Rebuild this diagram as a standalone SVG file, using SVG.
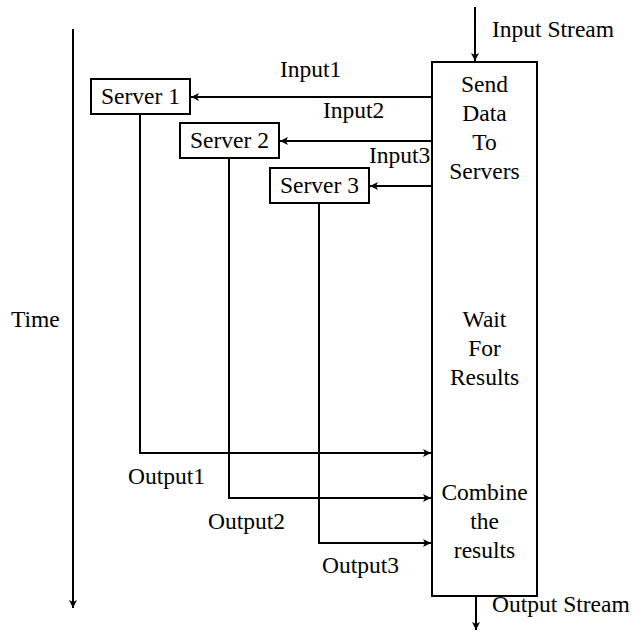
<svg xmlns="http://www.w3.org/2000/svg" width="633" height="632" viewBox="0 0 633 632" font-family="'Liberation Serif', 'Times New Roman', serif" font-size="23.5">
<defs>
<marker id="ah" markerWidth="10" markerHeight="10" refX="9" refY="5" orient="auto" markerUnits="userSpaceOnUse">
<path d="M1,1 L9,5 L1,9 L3,5 Z" fill="#000"/>
</marker>
<style>
.c{text-anchor:middle}
.b{fill:#fff;stroke:#000;stroke-width:2}
.ln{fill:none;stroke:#000;stroke-width:2}
</style>
</defs>
<rect x="0" y="0" width="633" height="632" fill="#fff"/>
<g id="time">
<line class="ln" x1="73" y1="29" x2="73" y2="608" marker-end="url(#ah)"/>
<text x="11" y="327">Time</text>
</g>
<g id="main">
<rect class="b" x="432" y="62" width="105" height="534"/>
<text class="c" x="484.5" y="92">Send</text>
<text class="c" x="484.5" y="121">Data</text>
<text class="c" x="484.5" y="150">To</text>
<text class="c" x="484.5" y="179">Servers</text>
<text class="c" x="484.5" y="327">Wait</text>
<text class="c" x="484.5" y="356">For</text>
<text class="c" x="484.5" y="385">Results</text>
<text class="c" x="484.5" y="500">Combine</text>
<text class="c" x="484.5" y="529">the</text>
<text class="c" x="484.5" y="558">results</text>
</g>
<g id="server1">
<rect class="b" x="91" y="79" width="99" height="35"/>
<text class="c" x="140.5" y="104">Server 1</text>
</g>
<g id="server2">
<rect class="b" x="180" y="123" width="99" height="35"/>
<text class="c" x="229.5" y="148">Server 2</text>
</g>
<g id="server3">
<rect class="b" x="270" y="168" width="99" height="35"/>
<text class="c" x="319.5" y="193">Server 3</text>
</g>
<g id="connectors">
<line class="ln" x1="475" y1="7" x2="475" y2="61" marker-end="url(#ah)"/>
<text x="492" y="37">Input Stream</text>
<line class="ln" x1="432" y1="97" x2="191" y2="97" marker-end="url(#ah)"/>
<text x="280" y="77">Input1</text>
<line class="ln" x1="432" y1="141" x2="280" y2="141" marker-end="url(#ah)"/>
<text x="323" y="118">Input2</text>
<line class="ln" x1="432" y1="186" x2="370" y2="186" marker-end="url(#ah)"/>
<text x="369" y="163">Input3</text>
<polyline class="ln" points="140,114 140,453 431,453" marker-end="url(#ah)"/>
<text x="128" y="484">Output1</text>
<polyline class="ln" points="229,158 229,498 431,498" marker-end="url(#ah)"/>
<text x="208" y="529">Output2</text>
<polyline class="ln" points="319,203 319,543 431,543" marker-end="url(#ah)"/>
<text x="322" y="573">Output3</text>
<line class="ln" x1="476" y1="596" x2="476" y2="630" marker-end="url(#ah)"/>
<text x="492" y="612">Output Stream</text>
</g>
</svg>
